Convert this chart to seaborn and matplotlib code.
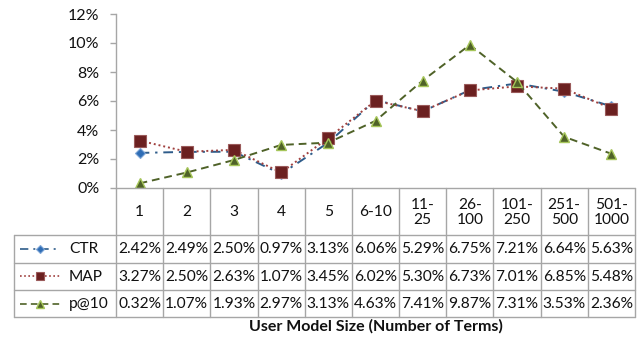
import matplotlib
matplotlib.use("Agg")
import matplotlib.pyplot as plt
import seaborn as sns
import pandas as pd
from matplotlib.lines import Line2D

categories = ["1", "2", "3", "4", "5", "6-10", "11-\n25", "26-\n100", "101-\n250", "251-\n500", "501-\n1000"]
ctr = [2.42, 2.49, 2.50, 0.97, 3.13, 6.06, 5.29, 6.75, 7.21, 6.64, 5.63]
map_ = [3.27, 2.50, 2.63, 1.07, 3.45, 6.02, 5.30, 6.73, 7.01, 6.85, 5.48]
p10 = [0.32, 1.07, 1.93, 2.97, 3.13, 4.63, 7.41, 9.87, 7.31, 3.53, 2.36]
series_names = ["CTR", "MAP", "p@10"]
y_ticks = [0, 2, 4, 6, 8, 10, 12]
x_label = "User Model Size (Number of Terms)"

sns.set_theme(style="white")
plt.rcParams["font.family"] = ["Lato", "DejaVu Sans"]

W, H = 639, 341
fig = plt.figure(figsize=(W / 100, H / 100), dpi=100)

# layout in pixels
x0, x1 = 116, 635
y_top, y_axis = 14, 188
tbl_left = 13.5
row_lines = [188, 235, 262.5, 290, 317]
grid_c = "#A6A6A6"
txt_c = "#111111"

ax = fig.add_axes([x0 / W, 1 - y_axis / H, (x1 - x0) / W, (y_axis - y_top) / H])
ax.set_xlim(-0.5, len(categories) - 0.5)
ax.set_ylim(0, 12)
ax.patch.set_alpha(0)

styles = [
    dict(color="#2E5C8A", linestyle=(0, (5, 3, 1.2, 3)), marker="D", markersize=5,
         markerfacecolor="#2F6DB5", markeredgecolor="#7FA6D6", markeredgewidth=0.8),
    dict(color="#A0403E", linestyle=(0, (1, 1.5)), marker="s", markersize=8,
         markerfacecolor="#6B2020", markeredgecolor="#9A5A5A", markeredgewidth=0.8),
    dict(color="#4F6228", linestyle=(0, (4, 2.5)), marker="^", markersize=7,
         markerfacecolor="#4F6228", markeredgecolor="#A6C65A", markeredgewidth=1.0),
]
data = [ctr, map_, p10]
xs = list(range(len(categories)))
for vals, st in zip(data, styles):
    df = pd.DataFrame({"x": xs, "y": vals})
    sns.lineplot(data=df, x="x", y="y", ax=ax, linewidth=1.4, **st)

ax.set_yticks(y_ticks)
ax.set_yticklabels([f"{t}%" for t in y_ticks], fontsize=11.5, color=txt_c)
ax.set_xticks([])
ax.set_xlabel("")
ax.set_ylabel("")
for s in ["top", "right", "bottom"]:
    ax.spines[s].set_visible(False)
ax.spines["left"].set_color(grid_c)
ax.spines["left"].set_linewidth(1.0)
ax.tick_params(axis="y", length=4, color=grid_c, left=True, width=1.0, pad=8)

# table overlay in pixel coords
tx = fig.add_axes([0, 0, 1, 1])
tx.set_xlim(0, W)
tx.set_ylim(H, 0)
tx.axis("off")
tx.patch.set_alpha(0)

ncol = len(categories)
cw = (x1 - x0) / ncol
lw = 1.0
tx.plot([x0, x1], [row_lines[0]] * 2, color=grid_c, lw=lw)
for yl in row_lines[1:]:
    tx.plot([tbl_left, x1], [yl] * 2, color=grid_c, lw=lw)
for i in range(ncol + 1):
    tx.plot([x0 + i * cw] * 2, [row_lines[0], row_lines[-1]], color=grid_c, lw=lw)
tx.plot([tbl_left] * 2, [row_lines[1], row_lines[-1]], color=grid_c, lw=lw)

fs = 11.2
for i, c in enumerate(categories):
    cx = x0 + (i + 0.5) * cw
    tx.text(cx, (row_lines[0] + row_lines[1]) / 2 + 1, c, ha="center", va="center",
            fontsize=fs, color=txt_c, linespacing=1.1)
for r, (name, vals, st) in enumerate(zip(series_names, data, styles)):
    cy = (row_lines[r + 1] + row_lines[r + 2]) / 2
    for i, v in enumerate(vals):
        cx = x0 + (i + 0.5) * cw
        tx.text(cx, cy + 0.5, f"{v:.2f}%", ha="center", va="center", fontsize=fs, color=txt_c)
    ms = st["markersize"] * 0.75
    tx.add_line(Line2D([20, 60], [cy, cy], linewidth=1.2, color=st["color"], linestyle=st["linestyle"]))
    tx.add_line(Line2D([40], [cy], linestyle="none", marker=st["marker"], markersize=ms,
                       markerfacecolor=st["markerfacecolor"], markeredgecolor=st["markeredgecolor"],
                       markeredgewidth=st["markeredgewidth"]))
    tx.text(69, cy + 0.5, name, ha="left", va="center", fontsize=fs, color=txt_c)

tx.text((x0 + x1) / 2, 326, x_label, ha="center", va="center", fontsize=11.5,
        fontweight="bold", color=txt_c)

fig.savefig("out.png", dpi=100)
